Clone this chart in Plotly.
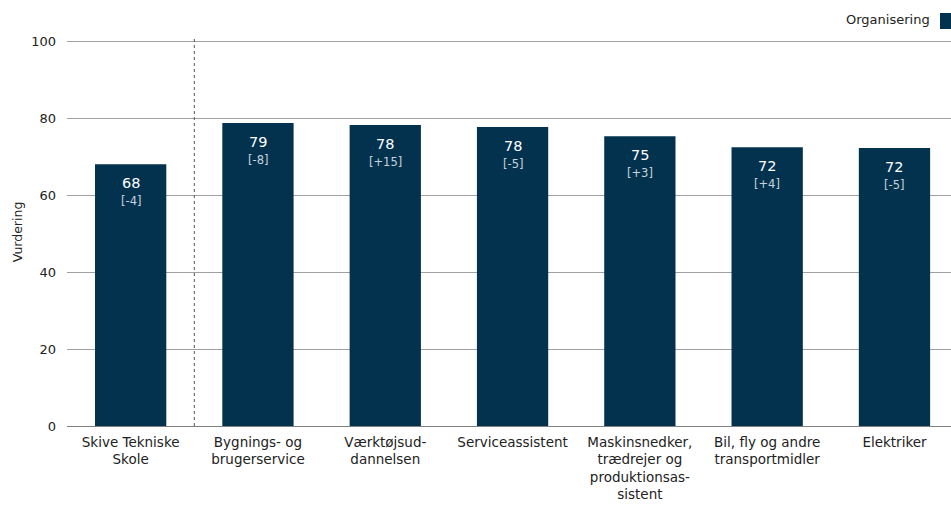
import plotly.graph_objects as go

categories = ["Skive Tekniske<br>Skole", "Bygnings- og<br>brugerservice", "Værktøjsud-<br>dannelsen",
              "Serviceassistent", "Maskinsnedker,<br>trædrejer og<br>produktionsas-<br>sistent",
              "Bil, fly og andre<br>transportmidler", "Elektriker"]
values = [68.0, 78.7, 78.2, 77.7, 75.3, 72.4, 72.2]
changes = [-4, -8, 15, -5, 3, 4, -5]
series_name = "Organisering"
y_ticks = [0, 20, 40, 60, 80, 100]

BAR = "#03324F"
FONT = "DejaVu Sans"

W, H = 951, 505
ML, MR, MT, MB = 67, 0, 38, 79
PH = H - MT - MB
PW = W - ML - MR

fig = go.Figure()
fig.add_trace(go.Bar(
    x=list(range(len(categories))), y=values, name=series_name,
    marker=dict(color=BAR, line=dict(width=0)), width=0.56,
    showlegend=False, hoverinfo="skip",
))

for i, (v, c) in enumerate(zip(values, changes)):
    fig.add_annotation(x=i, y=v, yshift=-19, text=f"{round(v)}", showarrow=False,
                       xanchor="center", yanchor="middle",
                       font=dict(family=FONT, size=14.5, color="white"))
    fig.add_annotation(x=i, y=v, yshift=-37, text=f"[{c:+d}]", showarrow=False,
                       xanchor="center", yanchor="middle",
                       font=dict(family=FONT, size=11.5, color="#c9d3dc"))

# dotted separator between school and programmes
fig.add_shape(type="line", xref="x", yref="paper", x0=0.5, x1=0.5, y0=0, y1=1,
              line=dict(color="#555555", width=1, dash="dot"))

# legend (text then swatch on the right)
fig.add_annotation(xref="paper", yref="paper", x=(932 - ML) / PW, y=1 + 18 / PH,
                   xanchor="right", yanchor="middle",
                   text=series_name, showarrow=False, font=dict(family=FONT, size=13, color="#222222"))
fig.add_shape(type="rect", xref="paper", yref="paper",
              x0=(940 - ML) / PW, x1=(956 - ML) / PW,
              y0=1 + 9 / PH, y1=1 + 25 / PH, line=dict(width=0), fillcolor=BAR)

fig.update_layout(
    width=W, height=H,
    margin=dict(l=ML, r=MR, t=MT, b=MB, autoexpand=False),
    paper_bgcolor="white", plot_bgcolor="white",
    font=dict(family=FONT, size=12, color="#222222"),
    xaxis=dict(tickmode="array", tickvals=list(range(len(categories))), ticktext=categories,
               range=[-0.5, 6.444], showgrid=False, showline=False, zeroline=False,
               ticks="", ticklabelstandoff=6, tickfont=dict(family=FONT, size=13.5, color="#222222")),
    yaxis=dict(range=[0, 100.8], tickvals=y_ticks, showgrid=True, gridcolor="#a0a0a0", gridwidth=1,
               zeroline=True, zerolinecolor="#808080", zerolinewidth=1, showline=False,
               ticks="", ticklabelstandoff=10, tickfont=dict(family=FONT, size=13, color="#222222"),
               title=dict(text="Vurdering", standoff=5, font=dict(family=FONT, size=12.5, color="#222222"))),
)

fig.write_html("out.html", config={"displayModeBar": False},
               post_script="document.body.style.margin='0';"
                           "document.documentElement.style.overflow='hidden';"
                           "document.body.style.overflow='hidden';")
